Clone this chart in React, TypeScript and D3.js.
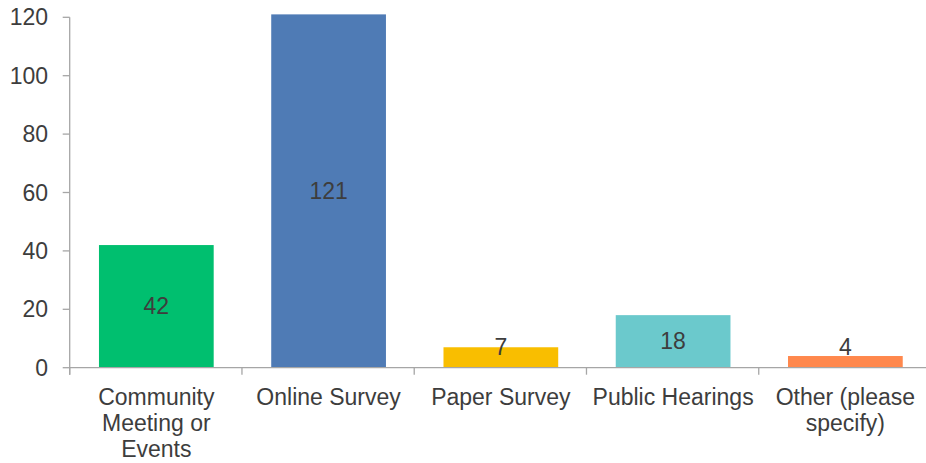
import React, { useRef, useEffect } from 'react';
import * as d3 from 'd3';

const categories = [
  ['Community', 'Meeting or', 'Events'],
  ['Online Survey'],
  ['Paper Survey'],
  ['Public Hearings'],
  ['Other (please', 'specify)'],
];
const values = [42, 121, 7, 18, 4];
const barColors = ['#00BF6F', '#4F7BB5', '#F9BE00', '#6BC9CC', '#FF884D'];
const yTicks = [0, 20, 40, 60, 80, 100, 120];

const width = 926;
const height = 463;

const App: React.FC = () => {
  const svgRef = useRef<SVGSVGElement>(null);

  useEffect(() => {
    document.body.style.margin = '0';
    if (!svgRef.current) return;

    d3.select(svgRef.current).selectAll('*').remove();
    const svg = d3.select(svgRef.current);

    const font = 'Liberation Sans, Arial, sans-serif';
    const textColor = '#3d3d3d';
    const axisColor = '#a6a6a6';
    const fontSize = '23px';

    const y = d3.scaleLinear().domain([0, 120]).range([367.7, 17.3]);
    const x = d3.scaleBand<number>()
      .domain(values.map((_, i) => i))
      .range([70.2, 931.5])
      .paddingInner(0.334)
      .paddingOuter(0.167);

    const y0 = y(0);
    const step = x.step();

    // Bars
    values.forEach((v, i) => {
      svg.append('rect')
        .attr('x', x(i)!)
        .attr('y', y(v))
        .attr('width', x.bandwidth())
        .attr('height', y0 - y(v))
        .attr('fill', barColors[i]);
    });

    // Value labels (centered, kept clear of the axis)
    values.forEach((v, i) => {
      const mid = (y(v) + y0) / 2;
      svg.append('text')
        .attr('x', x(i)! + x.bandwidth() / 2)
        .attr('y', Math.min(mid, y0 - 21))
        .attr('text-anchor', 'middle')
        .attr('dominant-baseline', 'central')
        .attr('font-family', font)
        .attr('font-size', fontSize)
        .attr('fill', textColor)
        .text(v);
    });

    // Y axis
    svg.append('line')
      .attr('x1', 69.7).attr('x2', 69.7)
      .attr('y1', y(120)).attr('y2', y0 + 7)
      .attr('stroke', axisColor).attr('stroke-width', 1.3);

    yTicks.forEach(t => {
      svg.append('line')
        .attr('x1', 62.7).attr('x2', 69.7)
        .attr('y1', y(t)).attr('y2', y(t))
        .attr('stroke', axisColor).attr('stroke-width', 1.3);
      svg.append('text')
        .attr('x', 48)
        .attr('y', y(t))
        .attr('text-anchor', 'end')
        .attr('dominant-baseline', 'central')
        .attr('font-family', font)
        .attr('font-size', fontSize)
        .attr('fill', textColor)
        .text(t);
    });

    // X axis
    svg.append('line')
      .attr('x1', 69.7).attr('x2', width)
      .attr('y1', y0).attr('y2', y0)
      .attr('stroke', axisColor).attr('stroke-width', 1.3);

    d3.range(values.length + 1).forEach(i => {
      const tx = 69.7 + i * step;
      svg.append('line')
        .attr('x1', tx).attr('x2', tx)
        .attr('y1', y0).attr('y2', y0 + 7)
        .attr('stroke', axisColor).attr('stroke-width', 1.3);
    });

    categories.forEach((lines, i) => {
      const t = svg.append('text')
        .attr('text-anchor', 'middle')
        .attr('font-family', font)
        .attr('font-size', fontSize)
        .attr('fill', textColor);
      lines.forEach((ln, j) => {
        t.append('tspan')
          .attr('x', x(i)! + x.bandwidth() / 2)
          .attr('y', 405 + j * 26)
          .text(ln);
      });
    });
  }, []);

  return <svg ref={svgRef} width={width} height={height} style={{ display: 'block', background: '#fff' }} />;
};

export default App;
